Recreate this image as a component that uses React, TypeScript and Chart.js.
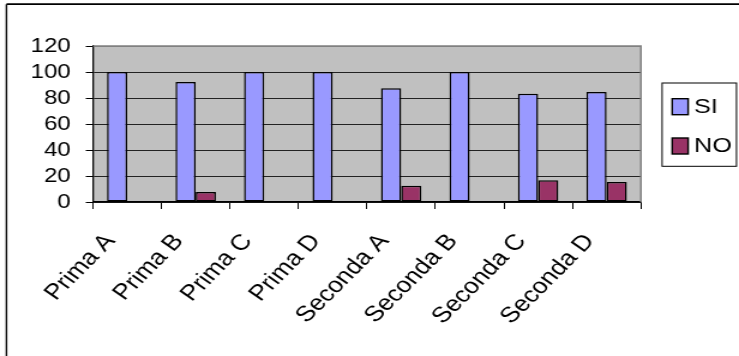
import { useEffect, useRef } from "react";
import { Chart, registerables } from "chart.js";

Chart.register(...registerables);

const categories = ["Prima A", "Prima B", "Prima C", "Prima D", "Seconda A", "Seconda B", "Seconda C", "Seconda D"];
const seriesLabels = ["SI", "NO"];
const siValues = [100, 92.3, 100, 100, 87.5, 100, 83.3, 84.6];
const noValues = [0, 7.7, 0, 0, 12.5, 0, 16.7, 15.4];
const yTicks = [0, 20, 40, 60, 80, 100, 120];
const seriesColors = ["#9999FF", "#993366"];

// the reference picture is horizontally stretched; draw narrower and stretch by CSS
const W = 616;
const H = 356;
const FONT = "'Liberation Sans', Arial, sans-serif";

const decor = {
  id: "decor",
  beforeDraw(chart: any) {
    const { ctx, chartArea: a } = chart;
    ctx.save();
    ctx.fillStyle = "#ffffff";
    ctx.fillRect(0, 0, chart.width, chart.height);
    ctx.fillStyle = "#C0C0C0";
    ctx.fillRect(a.left, a.top, a.right - a.left, a.bottom - a.top);
    ctx.strokeStyle = "#000000";
    ctx.lineWidth = 1.7;
    ctx.beginPath();
    ctx.moveTo(5.4, 4.2);
    ctx.lineTo(chart.width, 4.2);
    ctx.stroke();
    ctx.lineWidth = 1.4;
    ctx.beginPath();
    ctx.moveTo(5.4, 4.2);
    ctx.lineTo(5.4, chart.height);
    ctx.stroke();
    ctx.restore();
  },
  beforeDatasetsDraw(chart: any) {
    const { ctx, chartArea: a } = chart;
    ctx.save();
    ctx.strokeStyle = "#808080";
    ctx.lineWidth = 1.5;
    ctx.beginPath();
    ctx.moveTo(a.left, a.top);
    ctx.lineTo(a.right, a.top);
    ctx.lineTo(a.right, a.bottom);
    ctx.stroke();
    ctx.restore();
  },
  afterDraw(chart: any) {
    const { ctx } = chart;
    ctx.save();
    ctx.strokeStyle = "#000000";
    ctx.lineWidth = 1;
    ctx.strokeRect(551.9, 83, 62, 83.3);
    chart.data.datasets.forEach((ds: any, i: number) => {
      const y = 98.7 + i * 39.3;
      ctx.fillStyle = ds.backgroundColor;
      ctx.fillRect(560.3, y, 13.3, 16);
      ctx.strokeStyle = "#000000";
      ctx.lineWidth = 1.4;
      ctx.strokeRect(560.3, y, 13.3, 16);
      ctx.fillStyle = "#000000";
      ctx.font = `21px ${FONT}`;
      ctx.textBaseline = "middle";
      ctx.textAlign = "left";
      ctx.fillText(ds.label, 578.6, y + 8.5);
    });
    ctx.restore();
  },
};

export default function App() {
  const ref = useRef<HTMLCanvasElement | null>(null);

  useEffect(() => {
    if (!ref.current) return;
    const chart = new Chart(ref.current, {
      type: "bar",
      data: {
        labels: categories,
        datasets: [
          {
            label: seriesLabels[0],
            data: siValues,
            backgroundColor: seriesColors[0],
            borderColor: "#000000",
            borderWidth: 1.5,
            borderSkipped: false,
          },
          {
            label: seriesLabels[1],
            data: noValues,
            backgroundColor: seriesColors[1],
            borderColor: "#000000",
            borderWidth: 1.5,
            borderSkipped: false,
          },
        ],
      },
      options: {
        responsive: false,
        animation: false,
        devicePixelRatio: 1,
        datasets: { bar: { categoryPercentage: 0.59, barPercentage: 1 } },
        layout: { padding: { top: 46, right: 81.8, left: 0, bottom: 0 } },
        plugins: {
          legend: { display: false },
          tooltip: { enabled: false },
          title: { display: false },
        },
        scales: {
          x: {
            grid: {
              offset: true,
              drawOnChartArea: false,
              drawTicks: true,
              tickLength: 7,
              tickColor: "#000000",
              lineWidth: 1,
            },
            border: { display: true, color: "#000000", width: 1.5 },
            ticks: {
              autoSkip: false,
              maxRotation: 50,
              minRotation: 50,
              labelOffset: -14,
              padding: 20,
              color: "#000000",
              font: { family: FONT, size: 22 },
            },
            afterFit: (s: any) => {
              s.height = 154;
            },
          },
          y: {
            min: 0,
            max: 120,
            afterBuildTicks: (s: any) => {
              s.ticks = yTicks.map((v) => ({ value: v }));
            },
            grid: {
              color: (c: any) => (c.tick && c.tick.value === 120 ? "#808080" : "#222222"),
              lineWidth: 1,
              tickLength: 6,
              tickColor: "#000000",
            },
            border: { display: true, color: "#000000", width: 1.3 },
            ticks: {
              autoSkip: false,
              padding: 12.6,
              color: "#000000",
              font: { family: FONT, size: 20 },
            },
            afterFit: (s: any) => {
              s.width = 77.5;
            },
          },
        },
      },
      plugins: [decor],
    });
    return () => chart.destroy();
  }, []);

  return (
    <div style={{ position: "fixed", left: 0, top: 0, width: 739, height: 356, background: "#fff" }}>
      <canvas ref={ref} width={W} height={H} style={{ width: "739px", height: "356px", display: "block" }} />
    </div>
  );
}
